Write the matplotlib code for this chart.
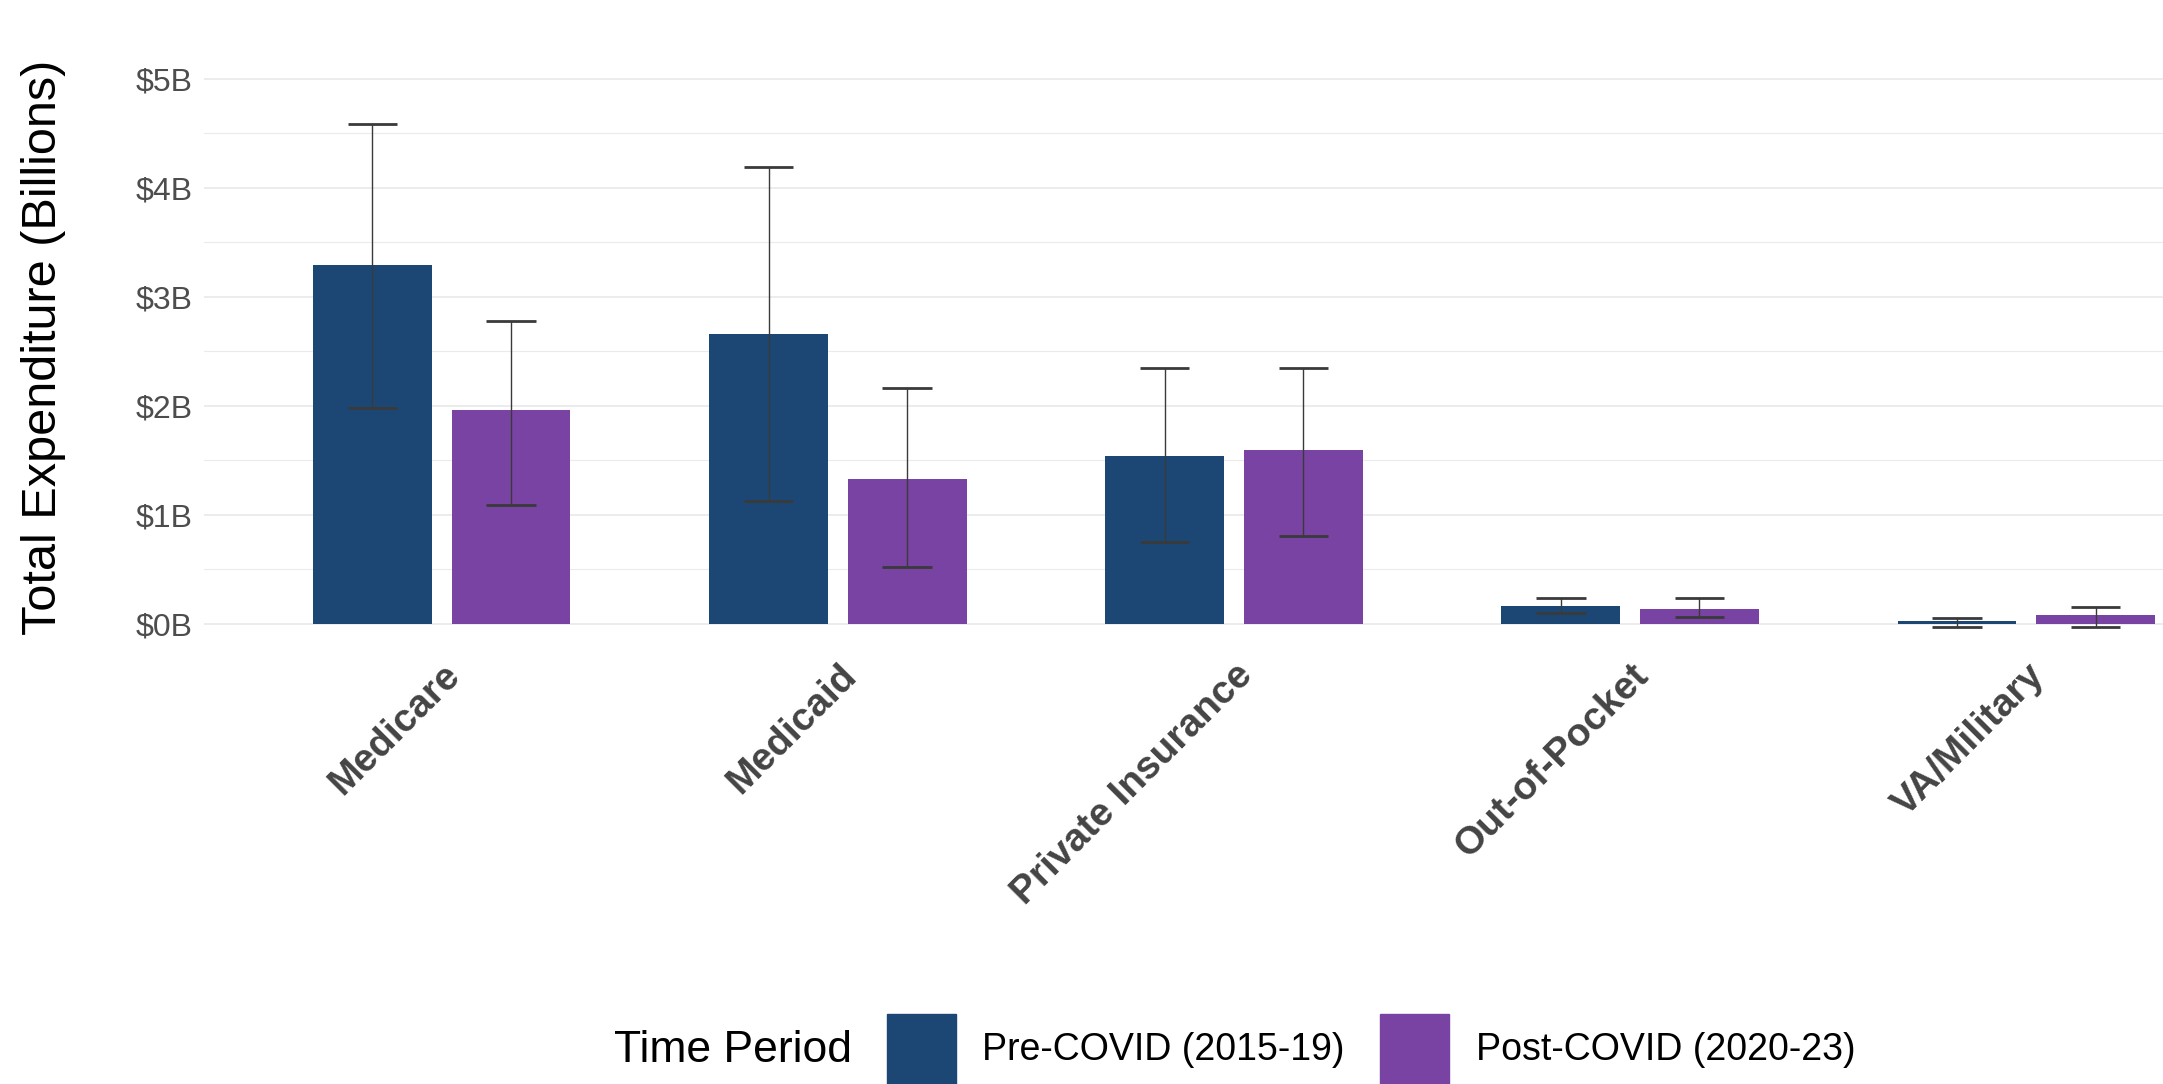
import matplotlib
matplotlib.use("Agg")
import matplotlib.pyplot as plt
from matplotlib import font_manager
from matplotlib.patches import Rectangle
import numpy as np

# data (billions of dollars)
payers = ["Medicare", "Medicaid", "Private Insurance", "Out-of-Pocket", "VA/Military"]
periods = ["Pre-COVID (2015-19)", "Post-COVID (2020-23)"]
pre_mean = [3.29, 2.66, 1.54, 0.16, 0.02]
pre_low = [1.98, 1.12, 0.75, 0.10, -0.03]
pre_high = [4.58, 4.19, 2.34, 0.23, 0.05]
post_mean = [1.96, 1.33, 1.59, 0.13, 0.08]
post_low = [1.09, 0.52, 0.80, 0.06, -0.03]
post_high = [2.78, 2.16, 2.34, 0.23, 0.15]
y_ticks = [0, 1, 2, 3, 4, 5]
y_tick_labels = ["$0B", "$1B", "$2B", "$3B", "$4B", "$5B"]

colors = ["#1c4775", "#7843a2"]
W, H = 2163, 1084

names = {f.name for f in font_manager.fontManager.ttflist}
base_font = "Liberation Sans" if "Liberation Sans" in names else "DejaVu Sans"
if "Liberation Sans Narrow" in names:
    legend_font, title_size, label_size = "Liberation Sans Narrow", 37, 32
else:
    legend_font, title_size, label_size = base_font, 32, 27
plt.rcParams["font.family"] = [base_font, "DejaVu Sans"]

fig = plt.figure(figsize=(W / 100, H / 100), dpi=100)
ax = fig.add_axes([204 / W, 0.41275, 2060 / W, 0.5298])

x = np.arange(1, len(payers) + 1)
offset, bar_w, cap = 0.175, 0.3, 0.0625
series = [(pre_mean, pre_low, pre_high), (post_mean, post_low, post_high)]
for i, (mean, low, high) in enumerate(series):
    xs = x + (i * 2 - 1) * offset
    ax.bar(xs, mean, width=bar_w, color=colors[i], zorder=2, label=periods[i])
    ax.vlines(xs, low, high, color="#3a3a3a", lw=1.0, zorder=3)
    ax.hlines(low, xs - cap, xs + cap, color="#3a3a3a", lw=2.0, zorder=3)
    ax.hlines(high, xs - cap, xs + cap, color="#3a3a3a", lw=2.0, zorder=3)

ax.set_xlim(0.4, 5.6)
ax.set_ylim(-0.12, 5.15)
ax.set_yticks(y_ticks)
ax.set_yticklabels(y_tick_labels, fontsize=23, color="#4d4d4d")
ax.set_yticks(np.arange(0.5, 5, 1.0), minor=True)
ax.grid(axis="y", which="major", color="#ebebeb", lw=1.3, zorder=0)
ax.grid(axis="y", which="minor", color="#ebebeb", lw=0.8, zorder=0)
ax.set_axisbelow(True)
ax.set_xticks(x)
ax.set_xticklabels(payers, fontsize=28, fontweight="bold", color="#444444")
plt.setp(ax.get_xticklabels(), rotation=45, ha="right", va="top",
         rotation_mode="anchor")
ax.tick_params(axis="both", which="both", length=0)
ax.tick_params(axis="x", pad=15)
ax.tick_params(axis="y", pad=8)
for s in ax.spines.values():
    s.set_visible(False)

fig.text(44 / W, (H - 347) / H, "Total Expenditure (Billions)", rotation=90,
         ha="center", va="center", fontsize=35, color="black")

# legend laid out along the bottom
ly = (H - 1050) / H
fig.text(614 / W, ly, "Time Period", ha="left", va="center",
         fontsize=title_size, family=legend_font, color="black")
for kx, tx, c, lab in [(887, 982, colors[0], periods[0]),
                       (1380, 1476, colors[1], periods[1])]:
    fig.patches.append(Rectangle((kx / W, -2 / H), 69 / W, 72 / H,
                                 transform=fig.transFigure, color=c))
    fig.text(tx / W, ly, lab, ha="left", va="center",
             fontsize=label_size, family=legend_font, color="black")

fig.savefig("out.png", dpi=100)
